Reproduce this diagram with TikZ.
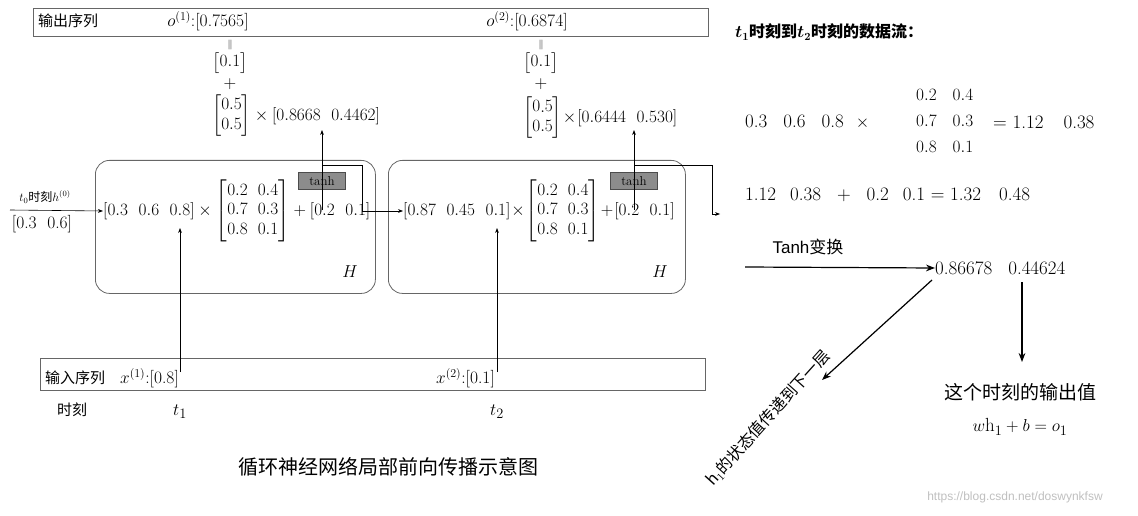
\documentclass[tikz,border=0pt]{standalone}
\usepackage{amsmath}
\usepackage{fontspec}
\newfontfamily\cjk{Noto Sans CJK SC}
\newfontfamily\lib{Liberation Sans}
\usetikzlibrary{arrows.meta}
\begin{document}
\begin{tikzpicture}[x=1pt,y=-1pt,
  txt/.style={inner sep=0pt,font=\fontsize{17.5}{20}\selectfont},
  cj/.style={inner sep=0pt,font=\fontsize{15}{17}\selectfont\cjk},
  rt/.style={inner sep=0pt,font=\fontsize{19}{22}\selectfont},
  frame/.style={draw=black!60,line width=0.8pt},
  cell/.style={draw=black!60,line width=0.8pt,rounded corners=14pt},
  arr/.style={-{Stealth[length=5pt]},line width=0.6pt},
  arrb/.style={-{Stealth[length=9pt]},line width=1.2pt}]
\useasboundingbox (0,0) rectangle (1138,516);
% output box
\node[frame,minimum width=675,minimum height=28,anchor=north west] (ob) at (33,8) {};
\node[cj,anchor=west] (ol) at (38,21) {输出序列};
\node[txt] (o1) at (208,21) {$o^{(1)}$:[0.7565]};
\node[txt] (o2) at (527,21) {$o^{(2)}$:[0.6874]};
% output columns
\node[txt,font=\fontsize{10}{11}\selectfont] (e1) at (230,45) {$\|$};
\node[txt] (b1) at (230,63) {$\begin{bmatrix}0.1\end{bmatrix}$};
\node[txt] (p1) at (230,84) {+};
\node[txt,anchor=west] (m1) at (212,116) {$\begin{bmatrix}0.5\\0.5\end{bmatrix}\times[0.8668\ \ 0.4462]$};
\node[txt,font=\fontsize{10}{11}\selectfont] (e2) at (541,45) {$\|$};
\node[txt] (b2) at (541,63) {$\begin{bmatrix}0.1\end{bmatrix}$};
\node[txt] (p2) at (541,84) {+};
\node[txt,anchor=west] (m2) at (523,118) {$\begin{bmatrix}0.5\\0.5\end{bmatrix}\!\times\![0.6444\ \ 0.530]$};
% cells
\node[cell,minimum width=280,minimum height=133,anchor=north west] (c1) at (95,160) {};
\node[cell,minimum width=297,minimum height=133,anchor=north west] (c2) at (388,160) {};
\node[txt,font=\fontsize{19}{21}\selectfont] (H1) at (350,272) {$H$};
\node[txt,font=\fontsize{19}{21}\selectfont] (H2) at (660,272) {$H$};
\node[draw=black!70,fill=black!45,minimum width=47,minimum height=17,inner sep=0pt,font=\fontsize{13}{15}\selectfont] (t1) at (322,181) {tanh};
\node[draw=black!70,fill=black!45,minimum width=47,minimum height=17,inner sep=0pt,font=\fontsize{13}{15}\selectfont] (t2) at (634,181) {tanh};
\node[txt,anchor=west] (r1) at (103,211) {$[0.3\ \ 0.6\ \ 0.8]\times\begin{bmatrix}0.2&0.4\\0.7&0.3\\0.8&0.1\end{bmatrix}+[0.2\ \ 0.1]$};
\node[txt,anchor=west] (r2) at (403,211) {$[0.87\ \ 0.45\ \ 0.1]\!\times\!\begin{bmatrix}0.2&0.4\\0.7&0.3\\0.8&0.1\end{bmatrix}\!+\![0.2\ \ 0.1]$};
% input h0
\coordinate (h0) at (10,210);
\node[txt,font=\fontsize{12}{14}\selectfont] (h0t) at (45,197) {$t_0$\cjk 时刻$h^{(0)}$};
\node[txt] (h0v) at (42,224) {[0.3\ \ 0.6]};
\draw[arr] (h0) -- (r1.west);
% tanh connectors
\coordinate (a1) at (322,210);
\coordinate (a2) at (634,210);
\draw[arr] (a1) -- (322,130);
\draw[arr] (a2) -- (634,130);
\coordinate (k1) at (322,165);
\draw[arr] (k1) -- (362,165) -- (362,211) -- (r2.west);
\coordinate (k2) at (634,165);
\coordinate (k3) at (720,214);
\draw[arr] (k2) -- (712,165) -- (712,214) -- (k3);
% input box
\node[frame,minimum width=665,minimum height=32,anchor=north west] (ib) at (40,358) {};
\node[cj,anchor=west] (il) at (45,378) {输入序列};
\node[txt,anchor=west] (x1) at (120,378) {$x^{(1)}$:[0.8]};
\node[txt,anchor=west] (x2) at (436,378) {$x^{(2)}$:[0.1]};
\draw[arr] (180,372) -- (180,228);
\draw[arr] (497,372) -- (497,228);
\node[cj] (tm) at (72,410) {时刻};
\node[txt,font=\fontsize{19}{21}\selectfont] (tt1) at (180,412) {$t_1$};
\node[txt,font=\fontsize{19}{21}\selectfont] (tt2) at (497,412) {$t_2$};
\node[cj,font=\fontsize{20}{24}\selectfont\cjk] (cap) at (388,467) {循环神经网络局部前向传播示意图};
% right side
\node[rt,anchor=west,font=\fontsize{16}{19}\selectfont\bfseries] (ti) at (735,32) {$\boldsymbol{t_1}$\cjk 时刻到$\boldsymbol{t_2}$\cjk 时刻的数据流：};
\node[rt,anchor=west] (q1) at (745,122) {0.3\hspace{16pt}0.6\hspace{16pt}0.8\hspace{12pt}$\times$};
\node[rt,anchor=west] (qm) at (916,122) {$\begin{array}{@{}l@{\hspace{16pt}}l@{}}0.2&0.4\\[4pt]0.7&0.3\\[4pt]0.8&0.1\end{array}$};
\node[rt,anchor=west] (qr) at (993,122) {= 1.12\hspace{20pt}0.38};
\node[rt,anchor=west] (q2) at (745,195) {1.12\hspace{14pt}0.38\hspace{16pt}+\hspace{16pt}0.2\hspace{14pt}0.1 = 1.32\hspace{18pt}0.48};
\node[rt,font=\fontsize{17}{20}\selectfont\lib] (tanhl) at (808,247) {Tanh\cjk 变换};
\node[rt,anchor=west] (hv) at (935,268) {0.86678\hspace{16pt}0.44624};
\draw[arrb] (745,267) -- (hv.west);
\draw[arrb] (1022,282) -- (1022,362);
\draw[arrb] (932,280) -- (822,380);
\node[rt,rotate=48,font=\fontsize{16}{19}\selectfont\cjk] (lab) at (768,418) {h$_1$的状态值传递到下一层};
\node[rt,font=\fontsize{19}{22}\selectfont\cjk] (ov) at (1020,392) {这个时刻的输出值};
\node[rt] (fm) at (1020,427) {$w\mathrm{h}_1+b=o_1$};
\node[font=\fontsize{12}{14}\selectfont\lib,text=black!25,inner sep=0pt] (wm) at (1015,497) {https://blog.csdn.net/doswynkfsw};
\end{tikzpicture}
\end{document}
